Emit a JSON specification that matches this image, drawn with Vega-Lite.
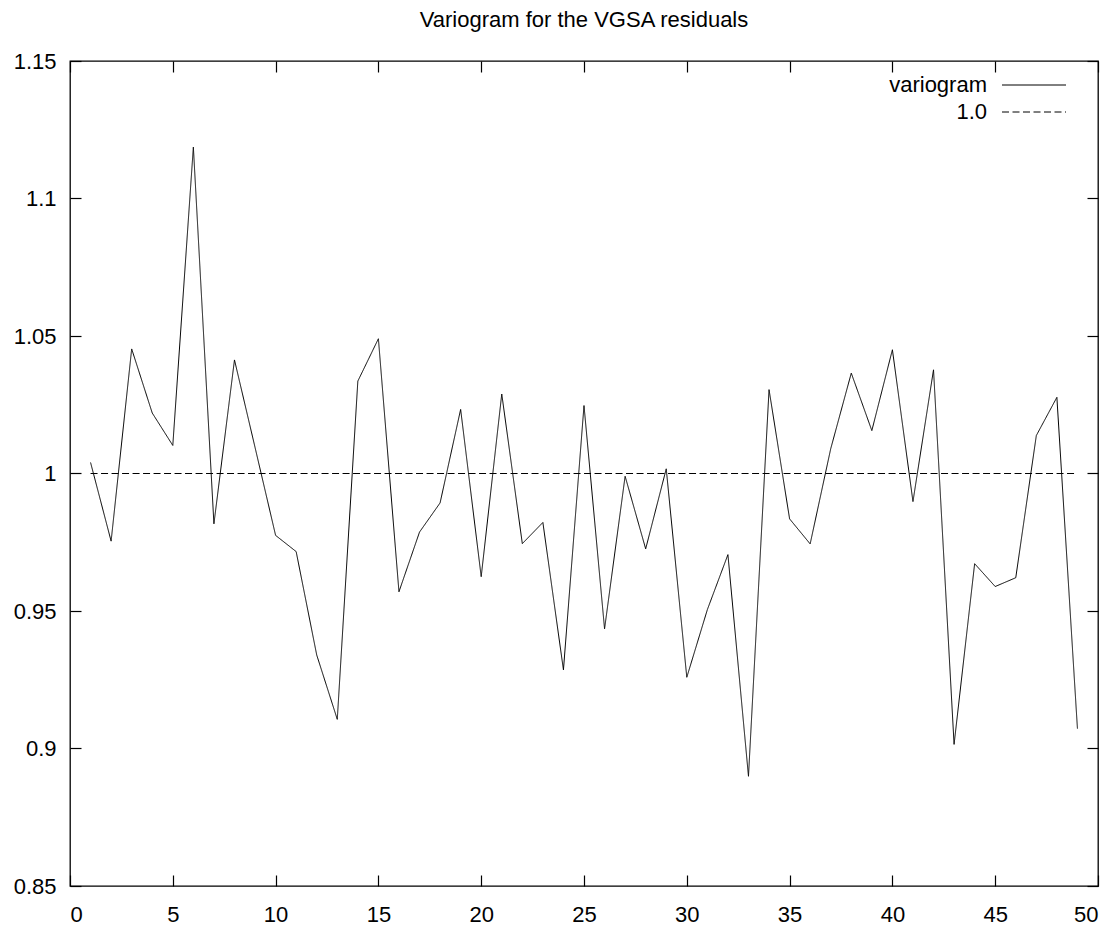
{
  "$schema": "https://vega.github.io/schema/vega-lite/v6.json",
  "width": 1028,
  "height": 825,
  "autosize": {"type": "none"},
  "padding": {"left": 70, "top": 61, "right": 17, "bottom": 44},
  "background": "white",
  "title": {
    "text": "Variogram for the VGSA residuals",
    "font": "Liberation Sans",
    "fontSize": 22,
    "fontWeight": "normal",
    "color": "black",
    "anchor": "middle",
    "offset": 18
  },
  "config": {
    "view": {"stroke": "black", "strokeWidth": 1.3},
    "axis": {
      "domain": false,
      "grid": false,
      "ticks": true,
      "tickColor": "black",
      "tickWidth": 1.2,
      "tickSize": -11,
      "labelFont": "Liberation Sans",
      "labelFontSize": 22,
      "labelColor": "black",
      "title": null
    }
  },
  "datasets": {
    "variogram": [
      {"lag": 1, "gamma": 1.004, "series": "variogram"},
      {"lag": 2, "gamma": 0.9754, "series": "variogram"},
      {"lag": 3, "gamma": 1.0453, "series": "variogram"},
      {"lag": 4, "gamma": 1.022, "series": "variogram"},
      {"lag": 5, "gamma": 1.0102, "series": "variogram"},
      {"lag": 6, "gamma": 1.1187, "series": "variogram"},
      {"lag": 7, "gamma": 0.9817, "series": "variogram"},
      {"lag": 8, "gamma": 1.0413, "series": "variogram"},
      {"lag": 9, "gamma": 1.0095, "series": "variogram"},
      {"lag": 10, "gamma": 0.9775, "series": "variogram"},
      {"lag": 11, "gamma": 0.9716, "series": "variogram"},
      {"lag": 12, "gamma": 0.934, "series": "variogram"},
      {"lag": 13, "gamma": 0.9106, "series": "variogram"},
      {"lag": 14, "gamma": 1.0336, "series": "variogram"},
      {"lag": 15, "gamma": 1.049, "series": "variogram"},
      {"lag": 16, "gamma": 0.957, "series": "variogram"},
      {"lag": 17, "gamma": 0.9787, "series": "variogram"},
      {"lag": 18, "gamma": 0.9893, "series": "variogram"},
      {"lag": 19, "gamma": 1.0233, "series": "variogram"},
      {"lag": 20, "gamma": 0.9625, "series": "variogram"},
      {"lag": 21, "gamma": 1.0289, "series": "variogram"},
      {"lag": 22, "gamma": 0.9745, "series": "variogram"},
      {"lag": 23, "gamma": 0.9822, "series": "variogram"},
      {"lag": 24, "gamma": 0.9286, "series": "variogram"},
      {"lag": 25, "gamma": 1.0247, "series": "variogram"},
      {"lag": 26, "gamma": 0.9435, "series": "variogram"},
      {"lag": 27, "gamma": 0.999, "series": "variogram"},
      {"lag": 28, "gamma": 0.9726, "series": "variogram"},
      {"lag": 29, "gamma": 1.0017, "series": "variogram"},
      {"lag": 30, "gamma": 0.9259, "series": "variogram"},
      {"lag": 31, "gamma": 0.9505, "series": "variogram"},
      {"lag": 32, "gamma": 0.9705, "series": "variogram"},
      {"lag": 33, "gamma": 0.8899, "series": "variogram"},
      {"lag": 34, "gamma": 1.0305, "series": "variogram"},
      {"lag": 35, "gamma": 0.9835, "series": "variogram"},
      {"lag": 36, "gamma": 0.9744, "series": "variogram"},
      {"lag": 37, "gamma": 1.009, "series": "variogram"},
      {"lag": 38, "gamma": 1.0365, "series": "variogram"},
      {"lag": 39, "gamma": 1.0156, "series": "variogram"},
      {"lag": 40, "gamma": 1.045, "series": "variogram"},
      {"lag": 41, "gamma": 0.9898, "series": "variogram"},
      {"lag": 42, "gamma": 1.0377, "series": "variogram"},
      {"lag": 43, "gamma": 0.9015, "series": "variogram"},
      {"lag": 44, "gamma": 0.9672, "series": "variogram"},
      {"lag": 45, "gamma": 0.9589, "series": "variogram"},
      {"lag": 46, "gamma": 0.9621, "series": "variogram"},
      {"lag": 47, "gamma": 1.0138, "series": "variogram"},
      {"lag": 48, "gamma": 1.0277, "series": "variogram"},
      {"lag": 49, "gamma": 0.9072, "series": "variogram"}
    ],
    "reference": [
      {"lag": 1, "gamma": 1.0, "series": "1.0"},
      {"lag": 49, "gamma": 1.0, "series": "1.0"}
    ]
  },
  "encoding": {
    "strokeDash": {
      "field": "series",
      "type": "nominal",
      "scale": {"domain": ["variogram", "1.0"], "range": [[1, 0], [7, 3.5]]},
      "legend": {
        "title": null,
        "orient": "none",
        "legendX": 953,
        "legendY": 13,
        "symbolType": "M-4,0H4",
        "symbolSize": 256,
        "symbolStrokeColor": "black",
        "symbolStrokeWidth": 1,
        "labelFont": "Liberation Sans",
        "labelFontSize": 22,
        "labelColor": "black",
        "labelAlign": "right",
        "labelOffset": -58,
        "rowPadding": 5
      }
    }
  },
  "layer": [
    {
      "data": {"name": "variogram"},
      "mark": {"type": "line", "color": "black", "strokeWidth": 1},
      "encoding": {
        "x": {
          "field": "lag",
          "type": "quantitative",
          "scale": {"domain": [0, 50], "nice": false, "zero": false},
          "axis": {"orient": "bottom", "values": [0, 5, 10, 15, 20, 25, 30, 35, 40, 45, 50], "labelPadding": 29}
        },
        "y": {
          "field": "gamma",
          "type": "quantitative",
          "scale": {"domain": [0.85, 1.15], "nice": false, "zero": false},
          "axis": {"orient": "left", "values": [0.85, 0.9, 0.95, 1, 1.05, 1.1, 1.15], "labelPadding": 25, "labelExpr": "datum.value == 1 ? '1' : format(datum.value, '.3~f')"}
        }
      }
    },
    {
      "data": {"name": "reference"},
      "mark": {"type": "line", "color": "black", "strokeWidth": 1},
      "encoding": {
        "x": {
          "field": "lag",
          "type": "quantitative",
          "scale": {"domain": [0, 50], "nice": false, "zero": false},
          "axis": {"orient": "top", "values": [0, 5, 10, 15, 20, 25, 30, 35, 40, 45, 50], "labels": false}
        },
        "y": {
          "field": "gamma",
          "type": "quantitative",
          "scale": {"domain": [0.85, 1.15], "nice": false, "zero": false},
          "axis": {"orient": "right", "values": [0.85, 0.9, 0.95, 1, 1.05, 1.1, 1.15], "labels": false}
        }
      }
    }
  ],
  "resolve": {
    "scale": {"x": "shared", "y": "shared", "strokeDash": "shared"},
    "axis": {"x": "independent", "y": "independent"}
  }
}
